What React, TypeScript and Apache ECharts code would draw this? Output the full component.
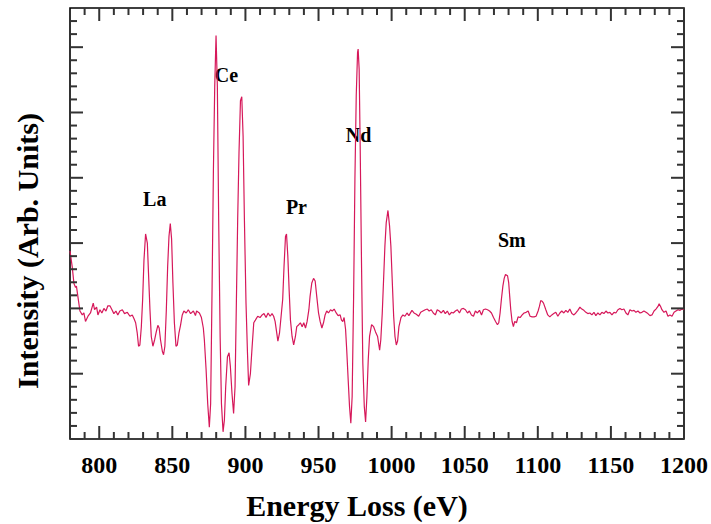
import React, { useEffect, useRef } from "react";
import * as echarts from "echarts";

// Energy loss (eV) and intensity (arb. units)
const energyEv = [
  780.0, 781.5, 782.7, 783.8, 784.4, 785.4, 786.8, 788.4, 789.5, 790.6, 792.3, 794.0, 795.9, 796.8, 798.2, 799.1,
  800.5, 801.8, 803.2, 804.6, 805.9, 807.3, 808.7, 810.0, 811.4, 812.7, 814.1, 815.8, 817.3, 819.2, 821.0, 822.6,
  823.8, 824.9, 826.0, 826.9, 827.8, 828.8, 829.7, 830.6, 831.7, 832.9, 833.7, 834.7, 835.6, 836.7, 837.9, 839.0,
  840.1, 841.0, 841.9, 843.2, 844.0, 844.9, 845.9, 846.8, 847.7, 848.6, 849.5, 850.4, 851.4, 852.5, 853.4, 854.5,
  855.6, 856.8, 857.9, 859.5, 860.9, 862.5, 864.4, 865.8, 866.6, 868.5, 869.9, 871.2, 871.9, 873.1, 874.2, 875.3,
  876.2, 877.2, 878.1, 879.0, 879.9, 880.8, 881.7, 882.7, 883.6, 884.7, 885.6, 886.5, 887.7, 888.8, 889.7, 890.8,
  891.9, 892.9, 893.8, 894.7, 895.6, 896.6, 897.5, 898.4, 899.3, 900.4, 901.4, 902.2, 903.4, 904.6, 905.7, 906.8,
  908.4, 910.0, 911.4, 912.7, 914.1, 915.5, 916.9, 918.2, 919.3, 920.3, 921.2, 922.2, 923.3, 924.4, 925.5, 926.4,
  927.4, 928.1, 929.0, 929.9, 930.8, 931.9, 933.0, 934.2, 935.1, 936.5, 937.6, 938.8, 939.9, 941.1, 942.2, 943.4,
  944.2, 945.4, 946.6, 947.7, 948.8, 950.0, 951.1, 952.3, 953.4, 954.5, 955.6, 956.8, 958.2, 959.4, 960.7, 962.1,
  963.4, 964.8, 965.7, 966.6, 967.5, 968.5, 969.3, 970.3, 971.2, 972.1, 973.0, 974.0, 974.9, 975.8, 976.7, 977.1,
  977.8, 978.5, 979.4, 980.3, 981.3, 982.2, 983.1, 984.0, 984.9, 986.3, 987.7, 989.0, 990.4, 991.8, 992.6, 993.6,
  994.5, 995.4, 996.3, 997.5, 998.6, 999.5, 1000.4, 1001.4, 1002.3, 1003.2, 1004.1, 1005.0, 1006.4, 1007.7, 1009.1, 1010.5,
  1011.8, 1013.9, 1015.3, 1016.9, 1018.5, 1019.9, 1021.4, 1023.0, 1024.4, 1025.7, 1027.1, 1028.5, 1029.9, 1031.2, 1032.6, 1034.0,
  1035.4, 1036.7, 1038.1, 1039.5, 1040.9, 1042.2, 1043.6, 1045.0, 1046.4, 1047.7, 1049.1, 1050.5, 1051.9, 1053.2, 1054.6, 1056.0,
  1057.3, 1058.7, 1060.1, 1061.5, 1062.8, 1064.2, 1065.6, 1067.0, 1068.3, 1069.7, 1071.1, 1072.4, 1073.3, 1074.2, 1075.1, 1076.1,
  1077.0, 1077.9, 1079.3, 1080.1, 1080.8, 1081.5, 1082.4, 1083.3, 1084.2, 1085.4, 1086.5, 1087.9, 1089.3, 1090.6, 1092.0, 1093.4,
  1094.7, 1096.1, 1097.5, 1098.8, 1100.2, 1101.1, 1102.0, 1102.9, 1103.9, 1105.5, 1106.8, 1108.2, 1109.6, 1110.9, 1112.3, 1113.7,
  1115.1, 1116.4, 1117.8, 1119.2, 1120.5, 1121.9, 1123.3, 1124.7, 1126.0, 1127.4, 1128.8, 1130.1, 1131.5, 1132.9, 1134.2, 1135.6,
  1137.0, 1138.4, 1139.7, 1141.1, 1142.5, 1143.8, 1145.2, 1146.6, 1147.9, 1149.3, 1150.7, 1152.1, 1153.4, 1154.8, 1156.2, 1157.5,
  1158.9, 1160.3, 1161.6, 1163.0, 1164.4, 1165.8, 1167.1, 1168.5, 1169.9, 1171.2, 1172.6, 1174.0, 1175.3, 1176.7, 1178.1, 1179.5,
  1180.8, 1182.2, 1183.0, 1184.0, 1184.9, 1186.3, 1187.7, 1189.0, 1190.4, 1191.8, 1193.2, 1194.5, 1195.9, 1197.3, 1198.6, 1200.0,
];

const intensity = [
  14.4, 13.2, 11.9, 11.6, 11.7, 10.9, 9.8, 9.5, 9.65, 9.0, 9.4, 9.65, 10.4, 9.9, 10.1, 9.5,
  9.9, 9.65, 10.0, 9.8, 10.2, 10.2, 9.9, 9.6, 9.8, 9.5, 9.8, 9.9, 9.6, 9.7, 9.4, 9.5,
  9.2, 8.9, 8.1, 7.1, 7.2, 8.6, 10.7, 13.7, 15.7, 15.0, 12.7, 9.9, 7.85, 7.1, 7.6, 8.2,
  8.7, 8.5, 7.6, 6.7, 6.45, 7.1, 9.9, 13.2, 15.5, 16.5, 15.3, 11.95, 8.9, 7.1, 7.2, 8.1,
  8.7, 9.5, 9.8, 9.65, 9.9, 9.6, 9.8, 9.45, 9.8, 9.65, 9.3, 8.5, 7.6, 5.3, 2.7, 0.9,
  2.7, 11.7, 20.6, 27.0, 30.9, 27.0, 16.8, 7.85, 2.7, 0.55, 1.45, 4.0, 6.3, 6.6, 5.55, 3.5,
  1.95, 4.0, 10.4, 16.8, 21.9, 25.9, 26.2, 23.2, 16.8, 10.4, 6.6, 4.1, 5.0, 7.1, 8.9, 9.1,
  9.4, 9.3, 9.5, 9.6, 9.3, 9.65, 9.4, 9.6, 9.4, 9.0, 8.3, 7.5, 8.1, 9.4, 10.7, 13.2,
  15.5, 15.7, 14.0, 11.4, 9.1, 7.85, 7.2, 7.85, 8.6, 8.75, 8.9, 8.6, 8.9, 8.5, 9.0, 9.9,
  10.9, 11.95, 12.3, 12.1, 10.9, 9.65, 9.0, 8.5, 8.9, 9.5, 9.8, 9.65, 9.9, 9.8, 9.95, 9.65,
  9.45, 9.5, 9.1, 9.0, 9.3, 8.4, 6.8, 4.5, 2.5, 1.2, 3.25, 10.9, 19.9, 26.3, 29.6, 29.85,
  28.3, 22.4, 13.5, 5.8, 2.5, 1.3, 3.25, 6.05, 7.85, 8.75, 8.6, 8.2, 7.85, 6.8, 7.6, 9.65,
  12.2, 14.75, 16.55, 17.5, 16.3, 14.75, 12.2, 9.4, 7.85, 7.2, 7.5, 8.6, 9.3, 9.5, 9.4, 9.65,
  9.45, 9.85, 9.65, 9.55, 9.4, 9.7, 9.8, 9.9, 9.95, 9.8, 9.9, 9.65, 9.5, 9.9, 9.8, 9.65,
  9.85, 9.6, 9.8, 9.5, 9.7, 9.65, 9.8, 9.9, 9.65, 9.95, 10.0, 9.9, 9.65, 9.8, 9.5, 9.4,
  9.8, 9.65, 9.85, 9.5, 9.9, 9.95, 9.9, 9.8, 9.65, 9.3, 9.0, 8.75, 8.9, 9.65, 10.7, 11.7,
  12.3, 12.6, 12.5, 11.95, 10.9, 9.9, 9.0, 8.6, 9.0, 8.9, 9.35, 9.3, 9.5, 9.65, 9.7, 9.8,
  9.4, 9.35, 9.35, 9.4, 9.8, 10.15, 10.6, 10.55, 10.4, 9.9, 9.5, 9.35, 9.5, 9.6, 9.7, 9.4,
  9.65, 9.8, 9.65, 9.85, 9.7, 9.95, 9.6, 9.5, 9.65, 9.85, 10.1, 9.95, 9.85, 9.7, 9.6, 9.65,
  9.5, 9.7, 9.45, 9.65, 9.5, 9.7, 9.6, 9.8, 9.65, 9.7, 9.5, 9.7, 9.65, 9.9, 10.0, 9.9,
  9.95, 9.65, 9.5, 9.9, 9.8, 9.85, 9.7, 9.8, 9.65, 9.7, 9.8, 9.7, 9.6, 9.45, 9.5, 9.8,
  9.95, 10.15, 10.35, 10.15, 9.9, 9.7, 9.8, 9.4, 9.5, 9.4, 9.7, 9.8, 9.9, 9.85, 9.95, 9.9,
];

const xMajorTicks = [800, 850, 900, 950, 1000, 1050, 1100, 1150, 1200];
const xMinorTicks = [
  790, 810, 820, 830, 840, 860, 870, 880, 890, 910, 920, 930, 940, 960, 970, 980, 990,
  1010, 1020, 1030, 1040, 1060, 1070, 1080, 1090, 1110, 1120, 1130, 1140, 1160, 1170, 1180, 1190,
];
const yMajorTicks = [0, 5, 10, 15, 20, 25, 30];
const yMinorTicks = [1, 2, 3, 4, 6, 7, 8, 9, 11, 12, 13, 14, 16, 17, 18, 19, 21, 22, 23, 24, 26, 27, 28, 29, 31, 32];

const peakNames = ["La", "Ce", "Pr", "Nd", "Sm"];
const peakLabelEv = [838.0, 887.0, 934.9, 977.4, 1082.2];
const peakLabelY = [18.35, 27.9, 17.8, 23.25, 15.2];

const xTitle = "Energy Loss (eV)";
const yTitle = "Intensity (Arb. Units)";

const X_MIN = 780;
const X_MAX = 1200;
const Y_MIN = 0;
const Y_MAX = 33;

const SERIF = "'Liberation Serif', 'Times New Roman', 'DejaVu Serif', serif";
const LINE_COLOR = "#d6185a";
const TICK_COLOR = "#333333";
const TICK_WIDTH = 2;
const MAJOR_LEN = 13;
const MINOR_LEN = 7;

// Inward ticks on both sides of the frame, positioned through the axis scales
function tickSeries(values: number[], isX: boolean, len: number): any {
  return {
    type: "custom",
    silent: true,
    clip: false,
    z: 5,
    data: values.map((v) => (isX ? [v, Y_MIN] : [X_MIN, v])),
    renderItem: (params: any, api: any) => {
      const st = { stroke: TICK_COLOR, lineWidth: TICK_WIDTH };
      if (isX) {
        const v = api.value(0);
        const b = api.coord([v, Y_MIN]);
        const t = api.coord([v, Y_MAX]);
        return {
          type: "group",
          children: [
            { type: "line", shape: { x1: b[0], y1: b[1], x2: b[0], y2: b[1] - len }, style: st },
            { type: "line", shape: { x1: t[0], y1: t[1], x2: t[0], y2: t[1] + len }, style: st },
          ],
        };
      }
      const v = api.value(1);
      const l = api.coord([X_MIN, v]);
      const r = api.coord([X_MAX, v]);
      return {
        type: "group",
        children: [
          { type: "line", shape: { x1: l[0], y1: l[1], x2: l[0] + len, y2: l[1] }, style: st },
          { type: "line", shape: { x1: r[0], y1: r[1], x2: r[0] - len, y2: r[1] }, style: st },
        ],
      };
    },
  };
}

export default function App() {
  const ref = useRef<HTMLDivElement>(null);

  useEffect(() => {
    if (!ref.current) return;
    const chart = echarts.init(ref.current, null, { renderer: "svg" });
    const lineData = energyEv.map((e, i) => [e, intensity[i]]);
    const labelData = peakNames.map((n, i) => ({ name: n, value: [peakLabelEv[i], peakLabelY[i]] }));

    chart.setOption({
      animation: false,
      grid: {
        left: 70,
        right: 26,
        top: 8,
        bottom: 85,
        show: true,
        borderColor: "#000",
        borderWidth: 1.6,
        backgroundColor: "transparent",
      },
      xAxis: {
        type: "value",
        min: X_MIN,
        max: X_MAX,
        axisLine: { show: false },
        axisTick: { show: false },
        axisLabel: {
          show: true,
          customValues: xMajorTicks,
          formatter: (v: number) => String(v),
          margin: 14,
          color: "#000",
          fontFamily: SERIF,
          fontWeight: "bold",
          fontSize: 24,
        },
        splitLine: { show: false },
      },
      yAxis: {
        type: "value",
        min: Y_MIN,
        max: Y_MAX,
        axisLine: { show: false },
        axisTick: { show: false },
        axisLabel: { show: false },
        splitLine: { show: false },
      },
      graphic: [
        {
          type: "text",
          x: 357,
          y: 505,
          style: {
            text: xTitle,
            fill: "#000",
            font: `bold 30px ${SERIF}`,
            textAlign: "center",
            textVerticalAlign: "middle",
          },
        },
        {
          type: "text",
          x: 27,
          y: 251,
          rotation: Math.PI / 2,
          style: {
            text: yTitle,
            fill: "#000",
            font: `bold 30px ${SERIF}`,
            textAlign: "center",
            textVerticalAlign: "middle",
          },
        },
      ],
      series: [
        tickSeries(xMajorTicks, true, MAJOR_LEN),
        tickSeries(xMinorTicks, true, MINOR_LEN),
        tickSeries(yMajorTicks, false, MAJOR_LEN),
        tickSeries(yMinorTicks, false, MINOR_LEN),
        {
          type: "line",
          data: lineData,
          showSymbol: false,
          symbol: "none",
          lineStyle: { color: LINE_COLOR, width: 1.2 },
        },
        {
          type: "scatter",
          data: labelData,
          symbolSize: 0,
          silent: true,
          itemStyle: { color: "#000", opacity: 1 },
          label: {
            show: true,
            position: "inside",
            formatter: "{b}",
            color: "#000",
            textBorderWidth: 0,
            fontFamily: SERIF,
            fontWeight: "bold",
            fontSize: 20,
          },
        },
      ],
    });
    return () => chart.dispose();
  }, []);

  return (
    <div
      ref={ref}
      style={{ position: "fixed", left: 0, top: 0, width: 711, height: 524, background: "#fff" }}
    />
  );
}
